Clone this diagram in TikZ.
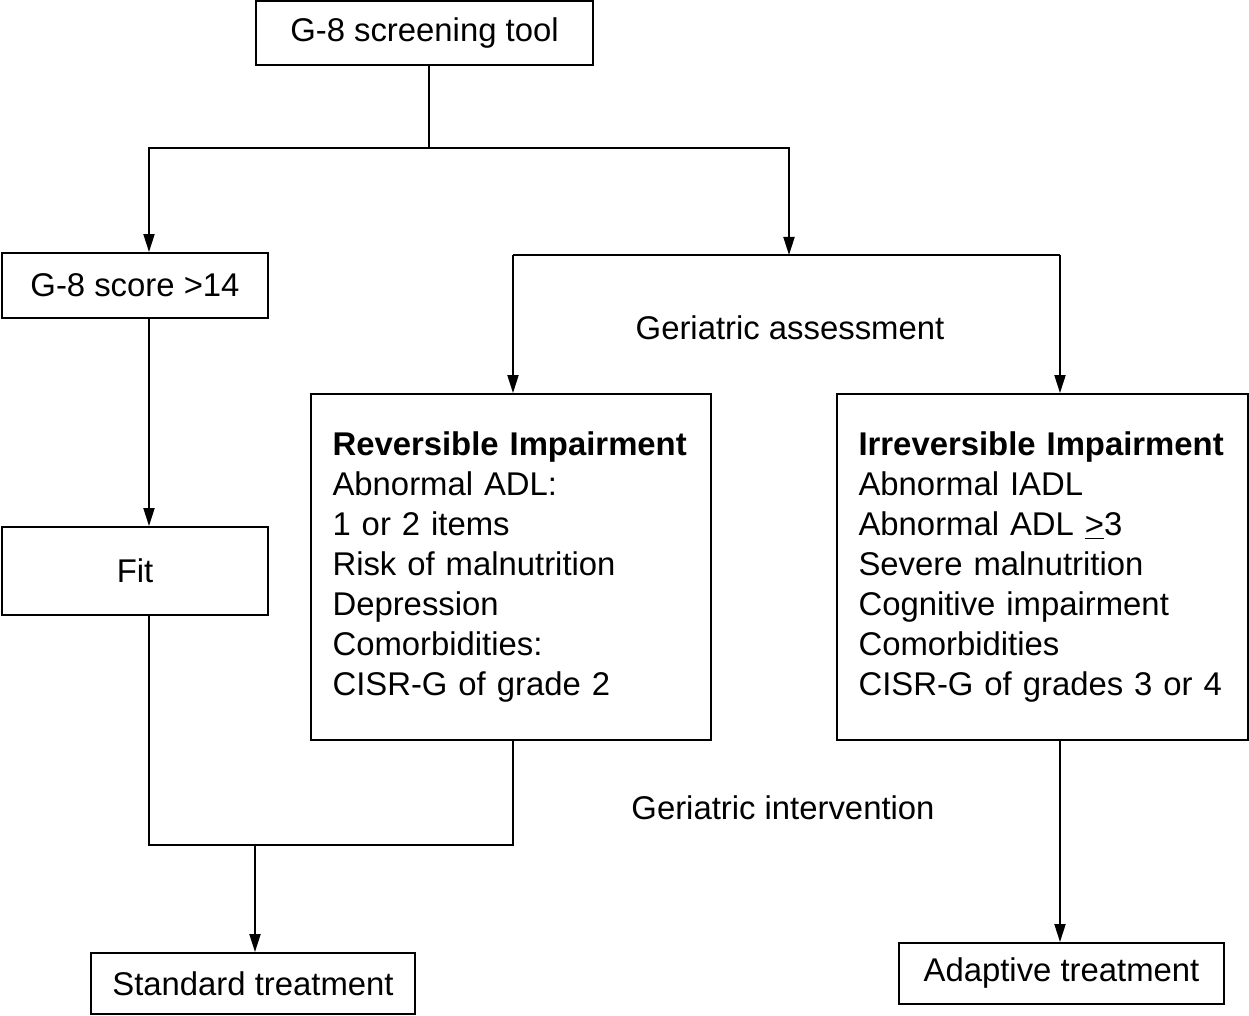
\documentclass[tikz,border=0pt]{standalone}
\usepackage{fontspec}
\setmainfont{Liberation Sans}
\usepackage{tikz}
\usetikzlibrary{arrows.meta,positioning,calc}
\definecolor{ink}{HTML}{000000}
\tikzset{
  blk/.style={draw=ink, line width=1.1pt, rectangle, inner sep=0pt,
              align=center, font=\fontsize{18.7}{22.8}\selectfont},
  txtb/.style={blk, align=left, inner xsep=0.43cm,
               minimum width=8cm, minimum height=6.92cm},
  ar/.style={-{Triangle[length=3.6mm,width=2.2mm]}, line width=1.1pt, draw=ink},
  ln/.style={line width=1.1pt, draw=ink},
  lbl/.style={font=\fontsize{18.7}{22.8}\selectfont, text=ink},
}
\begin{document}
\begin{tikzpicture}[x=0.02cm, y=-0.02cm]
  \useasboundingbox (0,0) rectangle (1249,1016);

  % --- boxes ---
  \node[blk, minimum width=6.74cm, minimum height=1.28cm] (tool) at (424.5,33)
       {G-8 screening tool};
  \node[blk, minimum width=5.32cm, minimum height=1.3cm] (score) at (135,285.5)
       {G-8 score >14};
  \node[blk, minimum width=5.32cm, minimum height=1.76cm] (fit) at (135,571)
       {Fit};
  \node[txtb, text width=7.14cm] (rev) at (511,567)
       {\textbf{Reversible Impairment}\\
        Abnormal ADL:\\
        1 or 2 items\\
        Risk of malnutrition\\
        Depression\\
        Comorbidities:\\
        CISR-G of grade 2};
  \node[txtb, minimum width=8.22cm, text width=7.36cm] (irr) at (1042.5,567)
       {\textbf{Irreversible Impairment}\\
        Abnormal IADL\\
        Abnormal ADL \underline{>}3\\
        Severe malnutrition\\
        Cognitive impairment\\
        Comorbidities\\
        CISR-G of grades 3 or 4};
  \node[blk, minimum width=6.48cm, minimum height=1.22cm] (std) at (253,983.5)
       {Standard treatment};
  \node[blk, minimum width=6.5cm, minimum height=1.22cm] (adp) at (1061.5,973.5)
       {Adaptive treatment};

  % --- labels ---
  \node[lbl] (assess) at (790,328) {Geriatric assessment};
  \node[lbl] (interv) at (783,808) {Geriatric intervention};

  % --- junctions ---
  \coordinate (top) at (429,148);
  \coordinate (lt) at (149,148);
  \coordinate (rt) at (789,148);
  \coordinate (gm) at (789,255);
  \coordinate (gl) at (513,255);
  \coordinate (gr) at (1060,255);
  \coordinate (bl) at (149,845);
  \coordinate (br) at (513,845);
  \coordinate (bs) at (255,845);

  % --- connectors ---
  \draw[ln] (tool.south -| top) -- (top);
  \draw[ar] (top) -- (lt) -- (lt |- score.north);
  \draw[ar] (top) -- (rt) -- (gm);
  \draw[ln] (gl) -- (gr);
  \draw[ar] (gl) -- (gl |- rev.north);
  \draw[ar] (gr) -- (gr |- irr.north);
  \draw[ar] (score.south -| lt) -- (fit.north -| lt);
  \draw[ln] (fit.south -| bl) -- (bl) -- (br) -- (br |- rev.south);
  \draw[ar] (bs) -- (bs |- std.north);
  \draw[ar] (irr.south -| gr) -- (adp.north -| gr);
\end{tikzpicture}
\end{document}
